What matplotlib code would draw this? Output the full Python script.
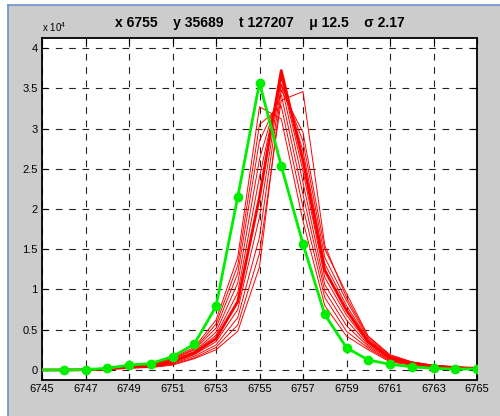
"""Peak profile: measured centroid (green) against shifted model runs (red)."""

import numpy as np
import matplotlib.pyplot as plt
from matplotlib.patches import Rectangle
from matplotlib.lines import Line2D
from matplotlib.ticker import MultipleLocator, FormatStrFormatter

plt.rcParams['font.family'] = ['Liberation Sans', 'DejaVu Sans']
plt.rcParams['mathtext.default'] = 'regular'

# ── Data (intensity in units of 10^4) ────────────────────────────────────────
pixel = np.arange(6745, 6766)

measured = [0.00, 0.00, 0.005, 0.02, 0.06, 0.08, 0.165, 0.32, 0.79, 2.15, 3.569,
            2.534, 1.565, 0.69, 0.275, 0.124, 0.07, 0.04, 0.02, 0.012, 0.012]

run_01 = [0, 0, 0.003, 0.015, 0.045, 0.065, 0.15, 0.28, 0.62, 1.40, 3.27,
          3.12, 1.85, 0.80, 0.42, 0.25, 0.10, 0.060, 0.040, 0.020, 0.015]
run_02 = [0, 0, 0.003, 0.014, 0.042, 0.062, 0.14, 0.26, 0.57, 1.30, 3.05,
          3.28, 2.02, 0.90, 0.48, 0.27, 0.11, 0.065, 0.040, 0.022, 0.016]
run_03 = [0, 0, 0.003, 0.013, 0.040, 0.058, 0.13, 0.25, 0.52, 1.20, 2.85,
          3.42, 2.18, 0.98, 0.55, 0.29, 0.12, 0.070, 0.042, 0.024, 0.017]
run_04 = [0, 0, 0.003, 0.012, 0.038, 0.054, 0.12, 0.23, 0.47, 1.08, 2.62,
          3.55, 2.33, 1.06, 0.62, 0.31, 0.13, 0.075, 0.044, 0.026, 0.018]
run_05 = [0, 0, 0.003, 0.011, 0.035, 0.050, 0.11, 0.22, 0.43, 0.96, 2.40,
          3.64, 2.47, 1.15, 0.68, 0.33, 0.14, 0.080, 0.046, 0.028, 0.019]
run_06 = [0, 0, 0.003, 0.010, 0.033, 0.046, 0.10, 0.21, 0.39, 0.85, 2.15,
          3.72, 2.60, 1.24, 0.74, 0.35, 0.15, 0.085, 0.048, 0.030, 0.020]
run_07 = [0, 0, 0.002, 0.010, 0.031, 0.042, 0.09, 0.19, 0.35, 0.75, 1.90,
          3.62, 2.72, 1.32, 0.80, 0.37, 0.16, 0.090, 0.050, 0.032, 0.021]
run_08 = [0, 0, 0.002, 0.009, 0.029, 0.038, 0.08, 0.17, 0.31, 0.65, 1.65,
          3.55, 2.84, 1.40, 0.86, 0.39, 0.17, 0.095, 0.052, 0.034, 0.022]
run_09 = [0, 0, 0.002, 0.009, 0.027, 0.034, 0.07, 0.15, 0.28, 0.56, 1.45,
          3.35, 3.46, 1.55, 0.90, 0.41, 0.18, 0.100, 0.055, 0.036, 0.023]
run_10 = [0, 0, 0.002, 0.008, 0.025, 0.030, 0.06, 0.14, 0.25, 0.48, 1.28,
          3.48, 2.95, 1.50, 0.95, 0.42, 0.19, 0.100, 0.058, 0.038, 0.025]

THICK_RUN = 6   # run drawn heavier (brightest pixel)

TITLE = 'x 6755    y 35689    t 127207    \u03bc 12.5    \u03c3 2.17'
X_TICKS = np.arange(6745, 6766, 2)

# ── Figure ───────────────────────────────────────────────────────────────────
fig = plt.figure(figsize=(5.0, 4.16), dpi=100, facecolor='white')

# grey window panel with blue border at left/top
fig.patches.append(Rectangle((8 / 500, 0), 1 - 8 / 500, 1 - 5 / 416,
                             transform=fig.transFigure, facecolor='#cccccc',
                             edgecolor='none', zorder=-2))
fig.lines.append(Line2D([8 / 500, 8 / 500], [0, 1 - 5 / 416],
                        transform=fig.transFigure, color='#6a94cc', lw=1.2))
fig.lines.append(Line2D([8 / 500, 1], [1 - 5 / 416, 1 - 5 / 416],
                        transform=fig.transFigure, color='#6a94cc', lw=1.2))

ax = fig.add_axes([42 / 500, 36 / 416, 435 / 500, 342 / 416])
ax.set_facecolor('white')

runs = [run_01, run_02, run_03, run_04, run_05,
        run_06, run_07, run_08, run_09, run_10]
for i, run in enumerate(runs, start=1):
    lw = 2.0 if i == THICK_RUN else 0.7
    ax.plot(pixel, run, color='red', linewidth=lw, zorder=3)

ax.plot(pixel, measured, color='#00ee00', linewidth=2.0, marker='o',
        markersize=6, markevery=slice(1, None), zorder=4)

ax.set_xlim(6745, 6765)
ax.set_ylim(-0.125, 4.125)
ax.set_xticks(X_TICKS)
ax.yaxis.set_major_locator(MultipleLocator(0.5))
ax.yaxis.set_major_formatter(FormatStrFormatter('%g'))

ax.grid(True, color='#222222', linestyle=(0, (6, 6)), linewidth=0.8)
ax.tick_params(direction='in', length=4, width=0.8, top=True, right=True,
               labelsize=8, pad=3)
for sp in ax.spines.values():
    sp.set_linewidth(1.3)

ax.set_title(TITLE, fontsize=10, fontweight='bold', pad=8)
ax.text(0.0, 1.012, 'x 10$^{4}$', transform=ax.transAxes, ha='left',
        va='bottom', fontsize=7)

plt.savefig('out.png', dpi=100, facecolor=fig.get_facecolor())
